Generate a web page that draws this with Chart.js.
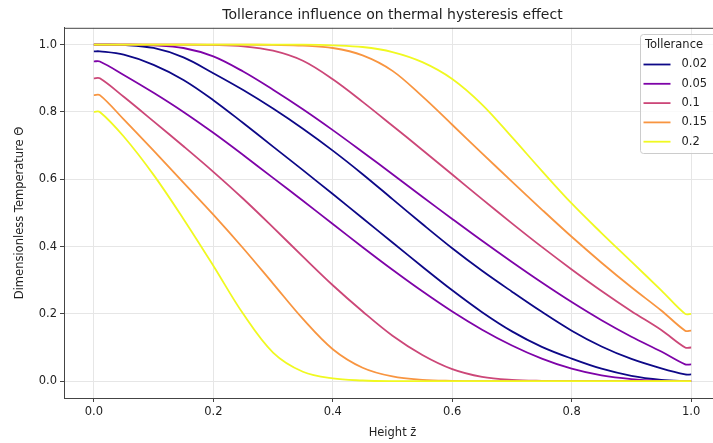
<!DOCTYPE html>
<html>
<head>
<meta charset="utf-8">
<script src="https://cdn.jsdelivr.net/npm/chart.js@4.4.1/dist/chart.umd.min.js"></script>
<style>
  html, body { margin: 0; padding: 0; overflow: hidden; background: #fff; }
  #wrap { width: 740px; height: 443px; }
</style>
</head>
<body>
<div id="wrap"><canvas id="chart" width="740" height="443"></canvas></div>
<script>
// height z (x axis)
const heights = [0, 0.01, 0.05, 0.1, 0.15, 0.2, 0.25, 0.3, 0.35, 0.4, 0.45, 0.5,
                 0.55, 0.6, 0.65, 0.7, 0.75, 0.8, 0.85, 0.9, 0.95, 0.99, 1.0];

const tolerances = ['0.02', '0.05', '0.1', '0.15', '0.2'];
const colors = ['#0d0887', '#7e03a8', '#cc4778', '#f89540', '#f0f921'];

// upper branch (starts at 1) and lower branch (starts at 1 - tol), per tolerance
const upper002 = [1, 1, 0.999, 0.99, 0.962, 0.915, 0.865, 0.81, 0.75, 0.685, 0.615, 0.541,
                  0.467, 0.395, 0.328, 0.266, 0.206, 0.15, 0.103, 0.066, 0.038, 0.02, 0.02];
const lower002 = [0.98, 0.98, 0.97, 0.94, 0.895, 0.835, 0.767, 0.697, 0.627, 0.556, 0.484, 0.412,
                  0.34, 0.27, 0.205, 0.148, 0.102, 0.067, 0.037, 0.016, 0.004, 0, 0];
const upper005 = [1, 1, 1, 0.998, 0.99, 0.965, 0.92, 0.866, 0.808, 0.746, 0.681, 0.615,
                  0.548, 0.482, 0.417, 0.354, 0.293, 0.235, 0.181, 0.132, 0.088, 0.05, 0.05];
const lower005 = [0.95, 0.95, 0.91, 0.857, 0.8, 0.738, 0.672, 0.604, 0.536, 0.467, 0.398, 0.331,
                  0.267, 0.207, 0.153, 0.106, 0.067, 0.037, 0.017, 0.006, 0.001, 0, 0];
const upper01  = [1, 1, 1, 1, 1, 0.999, 0.995, 0.982, 0.952, 0.897, 0.83, 0.759,
                  0.687, 0.614, 0.541, 0.469, 0.399, 0.332, 0.268, 0.208, 0.152, 0.1, 0.1];
const lower01  = [0.9, 0.9, 0.845, 0.772, 0.698, 0.622, 0.542, 0.457, 0.37, 0.285, 0.207, 0.135,
                  0.078, 0.036, 0.013, 0.004, 0.001, 0, 0, 0, 0, 0, 0];
const upper015 = [1, 1, 1, 1, 1, 1, 1, 0.999, 0.997, 0.99, 0.968, 0.922,
                  0.846, 0.762, 0.677, 0.593, 0.51, 0.429, 0.352, 0.279, 0.21, 0.15, 0.15];
const lower015 = [0.85, 0.85, 0.778, 0.685, 0.59, 0.495, 0.395, 0.29, 0.185, 0.095, 0.04, 0.014,
                  0.004, 0.001, 0, 0, 0, 0, 0, 0, 0, 0, 0];
const upper02  = [1, 1, 1, 1, 1, 1, 1, 1, 1, 0.998, 0.993, 0.978,
                  0.948, 0.898, 0.822, 0.725, 0.625, 0.528, 0.44, 0.355, 0.27, 0.2, 0.2];
const lower02  = [0.8, 0.8, 0.727, 0.613, 0.482, 0.343, 0.2, 0.085, 0.028, 0.008, 0.002, 0,
                  0, 0, 0, 0, 0, 0, 0, 0, 0, 0, 0];

const tickValues = [0, 0.2, 0.4, 0.6, 0.8, 1.0];

const branches = [
  [upper002, lower002],
  [upper005, lower005],
  [upper01, lower01],
  [upper015, lower015],
  [upper02, lower02]
];

const FONT = "'DejaVu Sans', sans-serif";
const datasets = [];
branches.forEach((pair, i) => {
  pair.forEach((vals, k) => {
    datasets.push({
      label: tolerances[i],
      data: heights.map((h, j) => ({ x: h, y: vals[j] })),
      borderColor: colors[i],
      backgroundColor: colors[i],
      borderWidth: 1.8,
      pointRadius: 0,
      fill: false,
      tension: 0.35,
      order: tolerances.length - i,
      showInLegend: k === 0
    });
  });
});

// top spine + matplotlib-like legend inside the axes
const frameAndLegend = {
  id: 'frameAndLegend',
  afterDraw(chart) {
    const ctx = chart.ctx;
    const a = chart.chartArea;
    ctx.save();
    ctx.strokeStyle = '#444';
    ctx.lineWidth = 1;
    ctx.beginPath();
    ctx.moveTo(a.left, a.top + 0.5);
    ctx.lineTo(a.right, a.top + 0.5);
    ctx.stroke();

    const bx = 640.5, by = 34.5, bw = 76, bh = 119;
    ctx.fillStyle = 'rgba(255,255,255,0.8)';
    ctx.strokeStyle = '#cccccc';
    ctx.beginPath();
    ctx.roundRect(bx, by, bw, bh, 3);
    ctx.fill();
    ctx.stroke();

    ctx.font = '11.5px ' + FONT;
    ctx.textBaseline = 'middle';
    ctx.fillStyle = '#222';
    ctx.fillText('Tollerance', 645, 45);
    const shown = chart.data.datasets.filter(d => d.showInLegend);
    shown.forEach((d, i) => {
      const y = 64.5 + i * 19.3;
      ctx.strokeStyle = d.borderColor;
      ctx.lineWidth = 1.8;
      ctx.beginPath();
      ctx.moveTo(643.5, y);
      ctx.lineTo(670.5, y);
      ctx.stroke();
      ctx.fillStyle = '#222';
      ctx.fillText(d.label, 681.5, y);
    });
    ctx.restore();
  }
};

const fixTicks = scale => { scale.ticks = tickValues.map(v => ({ value: v })); };

new Chart(document.getElementById('chart'), {
  type: 'line',
  data: { datasets },
  options: {
    responsive: false,
    animation: false,
    layout: { padding: { left: 0, right: 19, top: 0, bottom: 0 } },
    plugins: {
      legend: { display: false },
      tooltip: { enabled: false },
      title: {
        display: true,
        text: 'Tollerance influence on thermal hysteresis effect',
        color: '#222',
        fullSize: false,
        font: { family: FONT, size: 14, weight: 'normal' },
        padding: { top: 7, bottom: 4 }
      }
    },
    scales: {
      x: {
        type: 'linear',
        min: -0.05,
        max: 1.05,
        afterBuildTicks: fixTicks,
        afterFit: s => { s.height = 45; },
        grid: { color: '#e6e6e6', tickColor: '#444', tickLength: 4 },
        border: { color: '#444', width: 1 },
        ticks: {
          color: '#222',
          padding: 3,
          maxRotation: 0,
          font: { family: FONT, size: 11.5 },
          callback: v => v.toFixed(1)
        },
        title: {
          display: true,
          text: 'Height z\u0304',
          color: '#222',
          font: { family: FONT, size: 11.5 },
          padding: { top: 0, bottom: 3 }
        }
      },
      y: {
        min: -0.05,
        max: 1.05,
        afterBuildTicks: fixTicks,
        afterFit: s => { s.width = 64; },
        grid: { color: '#e6e6e6', tickColor: '#444', tickLength: 4 },
        border: { color: '#444', width: 1 },
        ticks: {
          color: '#222',
          padding: 3,
          font: { family: FONT, size: 11.5 },
          callback: v => v.toFixed(1)
        },
        title: {
          display: true,
          text: 'Dimensionless Temperature \u0398',
          color: '#222',
          font: { family: FONT, size: 11.5 },
          padding: { top: 13, bottom: 0 }
        }
      }
    }
  },
  plugins: [frameAndLegend]
});
</script>
</body>
</html>
